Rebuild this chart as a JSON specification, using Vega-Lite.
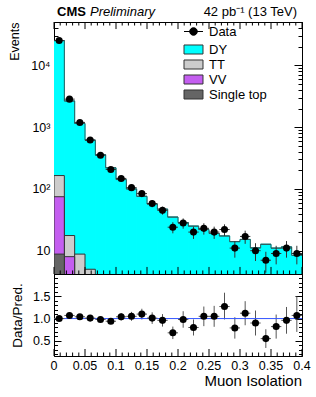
{
  "$schema": "https://vega.github.io/schema/vega-lite/v6.json",
  "padding": {"left": 7, "top": 5, "right": 5, "bottom": 5},
  "background": "white",
  "spacing": 0,
  "bounds": "flush",
  "datasets": {
    "hist": [
      {"lo": 0, "hi": 0.016667, "p": "DY", "k": 4, "v": 25135},
      {"lo": 0.016667, "hi": 0.033333, "p": "DY", "k": 4, "v": 2642},
      {"lo": 0.033333, "hi": 0.05, "p": "DY", "k": 4, "v": 1141},
      {"lo": 0.05, "hi": 0.066667, "p": "DY", "k": 4, "v": 610},
      {"lo": 0.066667, "hi": 0.083333, "p": "DY", "k": 4, "v": 355},
      {"lo": 0.083333, "hi": 0.1, "p": "DY", "k": 4, "v": 218},
      {"lo": 0.1, "hi": 0.116667, "p": "DY", "k": 4, "v": 140.5},
      {"lo": 0.116667, "hi": 0.133333, "p": "DY", "k": 4, "v": 99},
      {"lo": 0.133333, "hi": 0.15, "p": "DY", "k": 4, "v": 76},
      {"lo": 0.15, "hi": 0.166667, "p": "DY", "k": 4, "v": 57},
      {"lo": 0.166667, "hi": 0.183333, "p": "DY", "k": 4, "v": 47},
      {"lo": 0.183333, "hi": 0.2, "p": "DY", "k": 4, "v": 35},
      {"lo": 0.2, "hi": 0.216667, "p": "DY", "k": 4, "v": 28.5},
      {"lo": 0.216667, "hi": 0.233333, "p": "DY", "k": 4, "v": 25},
      {"lo": 0.233333, "hi": 0.25, "p": "DY", "k": 4, "v": 22},
      {"lo": 0.25, "hi": 0.266667, "p": "DY", "k": 4, "v": 19},
      {"lo": 0.266667, "hi": 0.283333, "p": "DY", "k": 4, "v": 17.3},
      {"lo": 0.283333, "hi": 0.3, "p": "DY", "k": 4, "v": 14},
      {"lo": 0.3, "hi": 0.316667, "p": "DY", "k": 4, "v": 15.2},
      {"lo": 0.316667, "hi": 0.333333, "p": "DY", "k": 4, "v": 11.1},
      {"lo": 0.333333, "hi": 0.35, "p": "DY", "k": 4, "v": 12.7},
      {"lo": 0.35, "hi": 0.366667, "p": "DY", "k": 4, "v": 11},
      {"lo": 0.366667, "hi": 0.383333, "p": "DY", "k": 4, "v": 11.5},
      {"lo": 0.383333, "hi": 0.4, "p": "DY", "k": 4, "v": 8.4},
      {"lo": 0, "hi": 0.016667, "p": "TT", "k": 3, "v": 90},
      {"lo": 0.016667, "hi": 0.033333, "p": "TT", "k": 3, "v": 9.6},
      {"lo": 0.033333, "hi": 0.05, "p": "TT", "k": 3, "v": 6.5},
      {"lo": 0.05, "hi": 0.066667, "p": "TT", "k": 3, "v": 4.3},
      {"lo": 0.066667, "hi": 0.083333, "p": "TT", "k": 3, "v": 3},
      {"lo": 0.083333, "hi": 0.1, "p": "TT", "k": 3, "v": 2},
      {"lo": 0.1, "hi": 0.116667, "p": "TT", "k": 3, "v": 1.5},
      {"lo": 0.116667, "hi": 0.133333, "p": "TT", "k": 3, "v": 1},
      {"lo": 0, "hi": 0.016667, "p": "VV", "k": 2, "v": 66},
      {"lo": 0.016667, "hi": 0.033333, "p": "VV", "k": 2, "v": 6.8},
      {"lo": 0.033333, "hi": 0.05, "p": "VV", "k": 2, "v": 1.8},
      {"lo": 0.05, "hi": 0.066667, "p": "VV", "k": 2, "v": 0.7},
      {"lo": 0, "hi": 0.016667, "p": "Single top", "k": 1, "v": 8.8},
      {"lo": 0.016667, "hi": 0.033333, "p": "Single top", "k": 1, "v": 1.2},
      {"lo": 0.033333, "hi": 0.05, "p": "Single top", "k": 1, "v": 0.5}
    ],
    "pts": [
      {"x": 0.008333, "lo": 0, "hi": 0.016667, "n": 25300, "nlo": 25141, "nhi": 25459, "r": 1.0, "rlo": 0.99, "rhi": 1.01},
      {"x": 0.025, "lo": 0.016667, "hi": 0.033333, "n": 2850, "nlo": 2797, "nhi": 2903, "r": 1.07, "rlo": 1.05, "rhi": 1.09},
      {"x": 0.041667, "lo": 0.033333, "hi": 0.05, "n": 1195, "nlo": 1160, "nhi": 1230, "r": 1.04, "rlo": 1.01, "rhi": 1.07},
      {"x": 0.058333, "lo": 0.05, "hi": 0.066667, "n": 621, "nlo": 596, "nhi": 646, "r": 1.01, "rlo": 0.97, "rhi": 1.05},
      {"x": 0.075, "lo": 0.066667, "hi": 0.083333, "n": 351, "nlo": 332, "nhi": 370, "r": 0.98, "rlo": 0.93, "rhi": 1.03},
      {"x": 0.091667, "lo": 0.083333, "hi": 0.1, "n": 207, "nlo": 193, "nhi": 221, "r": 0.94, "rlo": 0.875, "rhi": 1.005},
      {"x": 0.108333, "lo": 0.1, "hi": 0.116667, "n": 148, "nlo": 136, "nhi": 160, "r": 1.04, "rlo": 0.955, "rhi": 1.125},
      {"x": 0.125, "lo": 0.116667, "hi": 0.133333, "n": 105, "nlo": 95, "nhi": 115, "r": 1.05, "rlo": 0.95, "rhi": 1.15},
      {"x": 0.141667, "lo": 0.133333, "hi": 0.15, "n": 84, "nlo": 75, "nhi": 93, "r": 1.1, "rlo": 0.98, "rhi": 1.22},
      {"x": 0.158333, "lo": 0.15, "hi": 0.166667, "n": 58, "nlo": 50.4, "nhi": 65.6, "r": 1.01, "rlo": 0.88, "rhi": 1.14},
      {"x": 0.175, "lo": 0.166667, "hi": 0.183333, "n": 45, "nlo": 38.3, "nhi": 51.7, "r": 0.96, "rlo": 0.82, "rhi": 1.1},
      {"x": 0.191667, "lo": 0.183333, "hi": 0.2, "n": 24, "nlo": 19.1, "nhi": 28.9, "r": 0.68, "rlo": 0.54, "rhi": 0.82},
      {"x": 0.208333, "lo": 0.2, "hi": 0.216667, "n": 28, "nlo": 22.7, "nhi": 33.3, "r": 0.98, "rlo": 0.795, "rhi": 1.165},
      {"x": 0.225, "lo": 0.216667, "hi": 0.233333, "n": 20, "nlo": 15.5, "nhi": 24.5, "r": 0.8, "rlo": 0.62, "rhi": 0.98},
      {"x": 0.241667, "lo": 0.233333, "hi": 0.25, "n": 23, "nlo": 18.2, "nhi": 27.8, "r": 1.05, "rlo": 0.83, "rhi": 1.27},
      {"x": 0.258333, "lo": 0.25, "hi": 0.266667, "n": 20, "nlo": 15.5, "nhi": 24.5, "r": 1.05, "rlo": 0.815, "rhi": 1.285},
      {"x": 0.275, "lo": 0.266667, "hi": 0.283333, "n": 22, "nlo": 17.3, "nhi": 26.7, "r": 1.27, "rlo": 0.98, "rhi": 1.58},
      {"x": 0.291667, "lo": 0.283333, "hi": 0.3, "n": 11, "nlo": 7.7, "nhi": 14.3, "r": 0.79, "rlo": 0.55, "rhi": 1.03},
      {"x": 0.308333, "lo": 0.3, "hi": 0.316667, "n": 17, "nlo": 12.9, "nhi": 21.1, "r": 1.12, "rlo": 0.85, "rhi": 1.39},
      {"x": 0.325, "lo": 0.316667, "hi": 0.333333, "n": 10, "nlo": 6.8, "nhi": 13.2, "r": 0.9, "rlo": 0.62, "rhi": 1.18},
      {"x": 0.341667, "lo": 0.333333, "hi": 0.35, "n": 7, "nlo": 4.4, "nhi": 9.6, "r": 0.55, "rlo": 0.34, "rhi": 0.76},
      {"x": 0.358333, "lo": 0.35, "hi": 0.366667, "n": 9, "nlo": 6, "nhi": 12, "r": 0.82, "rlo": 0.55, "rhi": 1.09},
      {"x": 0.375, "lo": 0.366667, "hi": 0.383333, "n": 11, "nlo": 7.7, "nhi": 14.3, "r": 0.96, "rlo": 0.66, "rhi": 1.26},
      {"x": 0.391667, "lo": 0.383333, "hi": 0.4, "n": 9, "nlo": 6, "nhi": 12, "r": 1.07, "rlo": 0.7, "rhi": 1.5}
    ],
    "xmaj": [
      {"t": 0}, {"t": 0.05}, {"t": 0.1}, {"t": 0.15}, {"t": 0.2}, {"t": 0.25}, {"t": 0.3}, {"t": 0.35}, {"t": 0.4}
    ],
    "xmin": [
      {"t": 0.01}, {"t": 0.02}, {"t": 0.03}, {"t": 0.04}, {"t": 0.06}, {"t": 0.07}, {"t": 0.08}, {"t": 0.09},
      {"t": 0.11}, {"t": 0.12}, {"t": 0.13}, {"t": 0.14}, {"t": 0.16}, {"t": 0.17}, {"t": 0.18}, {"t": 0.19},
      {"t": 0.21}, {"t": 0.22}, {"t": 0.23}, {"t": 0.24}, {"t": 0.26}, {"t": 0.27}, {"t": 0.28}, {"t": 0.29},
      {"t": 0.31}, {"t": 0.32}, {"t": 0.33}, {"t": 0.34}, {"t": 0.36}, {"t": 0.37}, {"t": 0.38}, {"t": 0.39}
    ]
  },
  "vconcat": [
    {
      "width": 248,
      "height": 252,
      "layer": [
        {
          "data": {"name": "hist"},
          "transform": [
            {"window": [{"op": "sum", "field": "v", "as": "cum"}], "groupby": ["lo"], "sort": [{"field": "k", "order": "ascending"}], "frame": [null, 0]}
          ],
          "mark": {"type": "rect", "clip": true, "strokeWidth": 1},
          "encoding": {
            "x": {
              "field": "lo", "type": "quantitative",
              "scale": {"domain": [0, 0.4], "nice": false, "zero": false},
              "axis": null
            },
            "x2": {"field": "hi"},
            "y": {
              "field": "cum", "type": "quantitative",
              "scale": {"type": "log", "domain": [4.19, 50600], "nice": false},
              "axis": {
                "orient": "left",
                "values": [5,6,7,8,9,10,20,30,40,50,60,70,80,90,100,200,300,400,500,600,700,800,900,1000,2000,3000,4000,5000,6000,7000,8000,9000,10000,20000,30000,40000,50000],
                "labelExpr": "datum.value == 10 ? '10' : datum.value == 100 ? '10²' : datum.value == 1000 ? '10³' : datum.value == 10000 ? '10⁴' : ''",
                "labelPadding": 12,
                "title": "Events", "titleFontSize": 12.5, "titleX": -36, "titleY": 0, "titleAlign": "right", "titleAngle": -90, "titleBaseline": "alphabetic",
                "tickSize": {"condition": {"test": "abs(log(datum.value)/LN10 - round(log(datum.value)/LN10)) < 0.001", "value": -8}, "value": -4}
              }
            },
            "y2": {"datum": 1},
            "color": {
              "field": "p", "type": "nominal",
              "scale": {"domain": ["DY", "TT", "VV", "Single top"], "range": ["#00ffff", "#cccccc", "#c45ef0", "#656565"]},
              "legend": {
                "orient": "none", "legendX": 133, "legendY": 21, "title": null,
                "labelFont": "Liberation Sans", "labelFontSize": 13, "labelColor": "black",
                "symbolSize": 90, "rowPadding": 0, "labelOffset": 9,
                "symbolType": "M-2,-0.95H2V0.95H-2Z", "symbolStrokeColor": "#333333", "symbolStrokeWidth": 1
              }
            },
            "stroke": {"condition": {"test": "datum.p === 'DY'", "value": "#00ffff"}, "value": "#333333"},
            "order": {"field": "k", "sort": "descending"}
          }
        },
        {
          "data": {"name": "hist"},
          "transform": [
            {"window": [{"op": "sum", "field": "v", "as": "cum"}], "groupby": ["lo"], "sort": [{"field": "k", "order": "ascending"}], "frame": [null, 0]},
            {"filter": "datum.p === 'DY'"}
          ],
          "mark": {"type": "rule", "color": "#2f5a5a", "strokeWidth": 1, "clip": true},
          "encoding": {
            "x": {"field": "lo", "type": "quantitative", "axis": null},
            "x2": {"field": "hi"},
            "y": {
              "field": "cum", "type": "quantitative",
              "axis": {
                "orient": "right", "labels": false, "title": null,
                "values": [5,6,7,8,9,10,20,30,40,50,60,70,80,90,100,200,300,400,500,600,700,800,900,1000,2000,3000,4000,5000,6000,7000,8000,9000,10000,20000,30000,40000,50000],
                "tickSize": {"condition": {"test": "abs(log(datum.value)/LN10 - round(log(datum.value)/LN10)) < 0.001", "value": -8}, "value": -4}
              }
            }
          }
        },
        {
          "data": {"name": "hist"},
          "transform": [
            {"window": [{"op": "sum", "field": "v", "as": "cum"}], "groupby": ["lo"], "sort": [{"field": "k", "order": "ascending"}], "frame": [null, 0]},
            {"filter": "datum.p === 'DY'"}
          ],
          "mark": {"type": "line", "interpolate": "step-after", "color": "#2f5a5a", "strokeWidth": 1, "clip": true},
          "encoding": {
            "x": {"field": "lo", "type": "quantitative", "axis": null},
            "y": {"field": "cum", "type": "quantitative", "axis": null}
          }
        },
        {
          "data": {"name": "pts"},
          "mark": {"type": "rule", "color": "#333333", "strokeWidth": 1, "clip": true},
          "encoding": {
            "x": {"field": "x", "type": "quantitative", "axis": null},
            "y": {"field": "nlo", "type": "quantitative", "axis": null},
            "y2": {"field": "nhi"}
          }
        },
        {
          "data": {"name": "pts"},
          "mark": {"type": "rule", "color": "#333333", "strokeWidth": 1, "clip": true},
          "encoding": {
            "x": {"field": "lo", "type": "quantitative", "axis": null},
            "x2": {"field": "hi"},
            "y": {"field": "n", "type": "quantitative", "axis": null}
          }
        },
        {
          "data": {"name": "pts"},
          "mark": {"type": "point", "filled": true, "size": 50, "opacity": 1, "color": "#000000", "clip": true},
          "encoding": {
            "x": {"field": "x", "type": "quantitative", "axis": null},
            "y": {"field": "n", "type": "quantitative", "axis": null}
          }
        },
        {
          "data": {"name": "xmaj"},
          "mark": {"type": "rule", "color": "#000000", "strokeWidth": 1},
          "encoding": {
            "x": {"field": "t", "type": "quantitative", "axis": null},
            "y": {"datum": 4.19, "type": "quantitative", "axis": null},
            "y2": {"datum": 5.45}
          }
        },
        {
          "data": {"name": "xmin"},
          "mark": {"type": "rule", "color": "#000000", "strokeWidth": 1},
          "encoding": {
            "x": {"field": "t", "type": "quantitative", "axis": null},
            "y": {"datum": 4.19, "type": "quantitative", "axis": null},
            "y2": {"datum": 4.78}
          }
        },
        {
          "data": {"name": "xmaj"},
          "mark": {"type": "rule", "color": "#000000", "strokeWidth": 1},
          "encoding": {
            "x": {"field": "t", "type": "quantitative", "axis": null},
            "y": {"datum": 50600, "type": "quantitative", "axis": null},
            "y2": {"datum": 38900}
          }
        },
        {
          "data": {"name": "xmin"},
          "mark": {"type": "rule", "color": "#000000", "strokeWidth": 1},
          "encoding": {
            "x": {"field": "t", "type": "quantitative", "axis": null},
            "y": {"datum": 50600, "type": "quantitative", "axis": null},
            "y2": {"datum": 44370}
          }
        },
        {
          "data": {"values": [{}]},
          "mark": {"type": "point", "filled": true, "opacity": 0, "color": "#000000", "stroke": "#000000", "strokeWidth": 1},
          "encoding": {
            "x": {"datum": 0.2, "type": "quantitative", "axis": null},
            "y": {"datum": 100, "type": "quantitative", "axis": null},
            "shape": {
              "datum": "Data", "type": "nominal",
              "scale": {"domain": ["Data"], "range": ["M-2,0H2M-0.8,0A0.8,0.8,0,1,1,0.8,0A0.8,0.8,0,1,1,-0.8,0Z"]},
              "legend": {
                "orient": "none", "legendX": 133, "legendY": 3, "title": null,
                "labelFont": "Liberation Sans", "labelFontSize": 13, "labelColor": "black",
                "symbolSize": 90, "labelOffset": 9, "symbolOpacity": 1,
                "symbolFillColor": "#000000", "symbolStrokeWidth": 1
              }
            }
          }
        },
        {
          "data": {"values": [{}]},
          "mark": {"type": "text", "text": "CMS", "font": "Liberation Sans", "fontWeight": "bold", "fontSize": 13, "align": "left", "baseline": "alphabetic", "dx": 3, "dy": -6, "color": "black"},
          "encoding": {
            "x": {"datum": 0, "type": "quantitative", "axis": null},
            "y": {"datum": 50600, "type": "quantitative", "axis": null}
          }
        },
        {
          "data": {"values": [{}]},
          "mark": {"type": "text", "text": "Preliminary", "font": "Liberation Sans", "fontStyle": "italic", "fontSize": 13, "align": "left", "baseline": "alphabetic", "dx": 36, "dy": -6, "color": "black"},
          "encoding": {
            "x": {"datum": 0, "type": "quantitative", "axis": null},
            "y": {"datum": 50600, "type": "quantitative", "axis": null}
          }
        },
        {
          "data": {"values": [{}]},
          "mark": {"type": "text", "text": "42 pb⁻¹ (13 TeV)", "font": "Liberation Sans", "fontSize": 13, "align": "right", "baseline": "alphabetic", "dx": -5, "dy": -6, "color": "black"},
          "encoding": {
            "x": {"datum": 0.4, "type": "quantitative", "axis": null},
            "y": {"datum": 50600, "type": "quantitative", "axis": null}
          }
        }
      ],
      "resolve": {"axis": {"x": "independent", "y": "independent"}}
    },
    {
      "width": 248,
      "height": 82,
      "layer": [
        {
          "data": {"name": "pts"},
          "mark": {"type": "rule", "color": "#555555", "strokeWidth": 1, "clip": true},
          "encoding": {
            "x": {"field": "x", "type": "quantitative", "scale": {"domain": [0, 0.4], "nice": false, "zero": false}, "axis": null},
            "y": {"field": "rlo", "type": "quantitative", "scale": {"domain": [0.16, 2.0], "nice": false, "zero": false}, "axis": null},
            "y2": {"field": "rhi"}
          }
        },
        {
          "data": {"values": [{}]},
          "mark": {"type": "rule", "color": "#3355ff", "strokeWidth": 1},
          "encoding": {"y": {"datum": 1, "type": "quantitative", "axis": null}}
        },
        {
          "data": {"name": "pts"},
          "mark": {"type": "rule", "color": "#555555", "strokeWidth": 1, "clip": true},
          "encoding": {
            "x": {"field": "lo", "type": "quantitative", "axis": null},
            "x2": {"field": "hi"},
            "y": {
              "field": "r", "type": "quantitative",
              "axis": {
                "orient": "right", "labels": false, "title": null,
                "values": [0.2,0.3,0.4,0.5,0.6,0.7,0.8,0.9,1,1.1,1.2,1.3,1.4,1.5,1.6,1.7,1.8,1.9],
                "tickSize": {"condition": {"test": "abs(datum.value*2 - round(datum.value*2)) < 0.001", "value": -7}, "value": -3.5}
              }
            }
          }
        },
        {
          "data": {"name": "pts"},
          "mark": {"type": "point", "filled": true, "size": 50, "opacity": 1, "color": "black", "clip": true},
          "encoding": {
            "x": {"field": "x", "type": "quantitative", "axis": null},
            "y": {
              "field": "r", "type": "quantitative",
              "axis": {
                "orient": "left",
                "values": [0.2,0.3,0.4,0.5,0.6,0.7,0.8,0.9,1,1.1,1.2,1.3,1.4,1.5,1.6,1.7,1.8,1.9],
                "labelExpr": "abs(datum.value*2 - round(datum.value*2)) < 0.001 ? format(datum.value, '.1f') : ''",
                "labelPadding": 11,
                "title": "Data/Pred.", "titleFontSize": 13.5, "titleX": -33, "titleBaseline": "alphabetic",
                "tickSize": {"condition": {"test": "abs(datum.value*2 - round(datum.value*2)) < 0.001", "value": -7}, "value": -3.5}
              }
            }
          }
        },
        {
          "data": {"name": "xmaj"},
          "mark": {"type": "rule", "color": "#000000", "strokeWidth": 1},
          "encoding": {
            "x": {"field": "t", "type": "quantitative", "axis": null},
            "y": {"datum": 0.16, "type": "quantitative", "axis": null},
            "y2": {"datum": 0.317}
          }
        },
        {
          "data": {"name": "xmin"},
          "mark": {"type": "rule", "color": "#000000", "strokeWidth": 1},
          "encoding": {
            "x": {"field": "t", "type": "quantitative", "axis": null},
            "y": {"datum": 0.16, "type": "quantitative", "axis": null},
            "y2": {"datum": 0.238}
          }
        },
        {
          "data": {"name": "xmaj"},
          "mark": {"type": "text", "font": "Liberation Sans", "fontSize": 12.5, "align": "center", "baseline": "top", "dy": 4, "color": "black"},
          "encoding": {
            "x": {"field": "t", "type": "quantitative", "axis": null},
            "y": {"datum": 0.16, "type": "quantitative", "axis": null},
            "text": {"field": "t", "type": "quantitative", "format": "~g"}
          }
        },
        {
          "data": {"values": [{}]},
          "mark": {"type": "text", "text": "Muon Isolation", "font": "Liberation Sans", "fontSize": 15, "align": "right", "baseline": "alphabetic", "dy": 30, "color": "black"},
          "encoding": {
            "x": {"datum": 0.4, "type": "quantitative", "axis": null},
            "y": {"datum": 0.16, "type": "quantitative", "axis": null}
          }
        }
      ],
      "resolve": {"axis": {"y": "independent"}}
    }
  ],
  "config": {
    "font": "Liberation Sans",
    "view": {"stroke": "black", "strokeWidth": 1},
    "axis": {
      "grid": false, "domainColor": "black", "domainWidth": 1,
      "tickColor": "black", "tickWidth": 1,
      "labelColor": "black", "labelFont": "Liberation Sans", "labelFontSize": 12.5,
      "labelPadding": 4, "labelFlush": false, "labelOverlap": false, "labelBound": false,
      "titleFont": "Liberation Sans", "titleFontSize": 15, "titleFontWeight": "normal", "titleColor": "black"
    }
  }
}
